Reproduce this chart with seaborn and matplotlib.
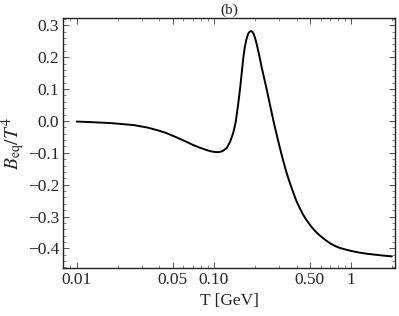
import matplotlib
matplotlib.use("Agg")
import matplotlib.pyplot as plt
import matplotlib.ticker as mticker
import seaborn as sns

# temperature in GeV and B_eq / T^4
T = [0.010, 0.013, 0.018, 0.026, 0.033, 0.040, 0.045, 0.053, 0.062, 0.070,
     0.079, 0.088, 0.094, 0.100, 0.107, 0.111, 0.115, 0.119, 0.124, 0.131,
     0.138, 0.144, 0.150, 0.155, 0.159, 0.164, 0.168, 0.173, 0.178, 0.182,
     0.186, 0.190, 0.195, 0.202, 0.209, 0.216, 0.223, 0.231, 0.239, 0.247,
     0.255, 0.264, 0.273, 0.282, 0.292, 0.302, 0.312, 0.323, 0.334, 0.345,
     0.357, 0.370, 0.382, 0.395, 0.408, 0.425, 0.444, 0.463, 0.484, 0.507,
     0.530, 0.560, 0.590, 0.625, 0.660, 0.710, 0.760, 0.820, 0.900, 1.00,
     1.14, 1.31, 1.51, 1.75, 1.98]
B = [-0.002, -0.004, -0.007, -0.013, -0.021, -0.031, -0.038, -0.051, -0.064, -0.075,
     -0.084, -0.091, -0.095, -0.097, -0.098, -0.097, -0.095, -0.091, -0.085, -0.066,
     -0.039, -0.005, 0.050, 0.100, 0.145, 0.200, 0.232, 0.258, 0.274, 0.280,
     0.282, 0.280, 0.273, 0.252, 0.226, 0.197, 0.168, 0.139, 0.111, 0.083,
     0.055, 0.025, -0.004, -0.030, -0.057, -0.083, -0.107, -0.131, -0.154, -0.174,
     -0.193, -0.212, -0.229, -0.246, -0.260, -0.276, -0.292, -0.305, -0.317, -0.329,
     -0.339, -0.350, -0.359, -0.368, -0.376, -0.385, -0.392, -0.398, -0.403, -0.408,
     -0.413, -0.417, -0.420, -0.423, -0.425]

x_ticks = [0.01, 0.05, 0.1, 0.5, 1]
x_tick_labels = ["0.01", "0.05", "0.10", "0.50", "1"]

sns.set_style("ticks")
plt.rcParams["font.family"] = ["Liberation Serif", "DejaVu Serif"]
plt.rcParams["mathtext.fontset"] = "stix"

fig = plt.figure(figsize=(3.99, 3.16), dpi=100)
ax = fig.add_axes([0.159, 0.151, 0.831, 0.791])
ax.set_xscale("log")

sns.lineplot(x=T, y=B, ax=ax, color="black", linewidth=1.4, sort=False)

ax.set_xlim(0.0080, 2.09)
ax.set_ylim(-0.4625, 0.322)

ax.xaxis.set_major_locator(mticker.FixedLocator(x_ticks))
ax.xaxis.set_major_formatter(mticker.FixedFormatter(x_tick_labels))
ax.xaxis.set_minor_locator(mticker.LogLocator(base=10, subs=range(2, 10)))
ax.xaxis.set_minor_formatter(mticker.NullFormatter())


def fmt_y(v, pos):
    v = round(v, 1)
    s = f"{abs(v):.1f}"
    return s if v >= 0 else "\u2212" + s


ax.yaxis.set_major_locator(mticker.MultipleLocator(0.1))
ax.yaxis.set_minor_locator(mticker.MultipleLocator(0.02))
ax.yaxis.set_major_formatter(mticker.FuncFormatter(fmt_y))

ax.tick_params(which="both", direction="in", top=True, right=True,
               color="#555555", labelsize=12.5, pad=3)
ax.tick_params(which="major", length=4, width=0.7)
ax.tick_params(which="minor", length=2, width=0.5)
for s in ax.spines.values():
    s.set_linewidth(1.0)
    s.set_color("#222222")

ax.set_xlabel("T [GeV]", fontsize=12.5, labelpad=3)
ax.set_ylabel(r"$B_{\rm eq}/T^4$", fontsize=14, labelpad=1)
ax.set_title("(b)", fontsize=11, pad=3)

fig.savefig("out.png", dpi=100)
